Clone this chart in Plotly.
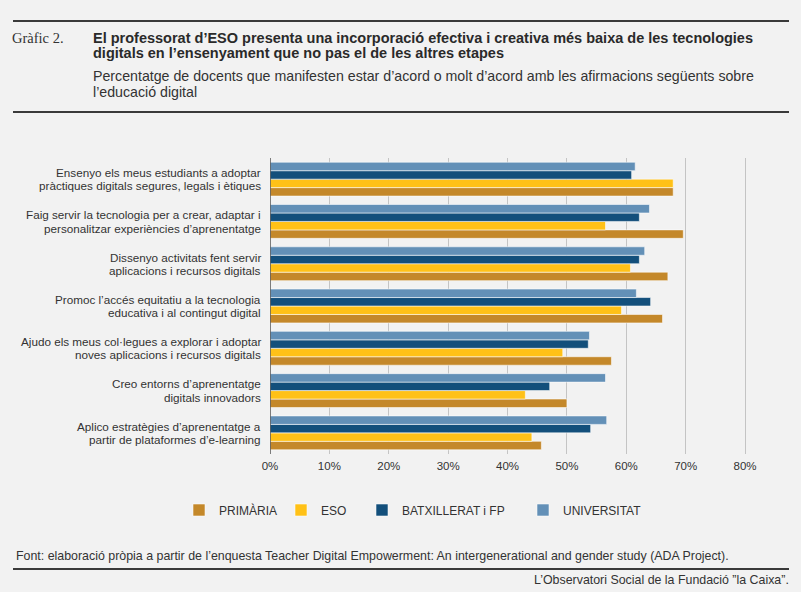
import plotly.graph_objects as go

categories = [
    "Ensenyo els meus estudiants a adoptar<br>pràctiques digitals segures, legals i ètiques",
    "Faig servir la tecnologia per a crear, adaptar i<br>personalitzar experiències d’aprenentatge",
    "Dissenyo activitats fent servir<br>aplicacions i recursos digitals",
    "Promoc l’accés equitatiu a la tecnologia<br>educativa i al contingut digital",
    "Ajudo els meus col·legues a explorar i adoptar<br>noves aplicacions i recursos digitals",
    "Creo entorns d’aprenentatge<br>digitals innovadors",
    "Aplico estratègies d’aprenentatge a<br>partir de plataformes d’e-learning",
]
primaria = [67.9, 69.6, 67.0, 66.1, 57.5, 50.0, 45.7]
eso = [67.9, 56.5, 60.7, 59.2, 49.3, 43.0, 44.1]
batx = [60.9, 62.2, 62.2, 64.1, 53.6, 47.1, 54.0]
univ = [61.5, 63.9, 63.1, 61.7, 53.8, 56.5, 56.7]
series_names = ["PRIMÀRIA", "ESO", "BATXILLERAT i FP", "UNIVERSITAT"]
series_values = [primaria, eso, batx, univ]
colors = ["#c4882a", "#ffc117", "#134f7b", "#6390b7"]
tick_vals = [0, 10, 20, 30, 40, 50, 60, 70, 80]
tick_text = ["0%", "10%", "20%", "30%", "40%", "50%", "60%", "70%", "80%"]

W, H = 801, 592
L, R, T, B = 270, 50, 158, 138
PW, PH = W - L - R, H - T - B

def px(x):
    return (x - L) / PW

def py(y):
    return (H - B - y) / PH

font_main = "Liberation Sans, Arial, sans-serif"
legend_x = [179, 281, 362, 523]
legend_keys = ["legend", "legend2", "legend3", "legend4"]

fig = go.Figure()
for name, vals, col, lk in zip(series_names, series_values, colors, legend_keys):
    fig.add_trace(go.Bar(
        y=categories, x=vals, name=name, orientation="h",
        marker=dict(color=col, line=dict(color="rgba(255,255,255,0.55)", width=1)),
        hoverinfo="x+name", legend=lk,
    ))

legend_common = dict(orientation="h", xanchor="left", y=py(510), yanchor="middle",
                     font=dict(size=12, color="#333333", family=font_main),
                     itemwidth=30, bgcolor="rgba(0,0,0,0)")
legends = {lk: dict(legend_common, x=px(lx)) for lk, lx in zip(legend_keys, legend_x)}

fig.update_layout(
    width=W, height=H,
    margin=dict(l=L, r=R, t=T, b=B),
    paper_bgcolor="#f2f2f2", plot_bgcolor="#f2f2f2",
    barmode="group", bargap=0.2, bargroupgap=0,
    font=dict(family=font_main, size=12, color="#333333"),
    showlegend=True,
    xaxis=dict(range=[0, 81], tickvals=tick_vals, ticktext=tick_text,
               showgrid=True, gridcolor="#c4c4c4", gridwidth=1,
               zeroline=False, showline=False, ticks="",
               tickfont=dict(size=11.5, color="#333333"), ticklabelstandoff=3,
               fixedrange=True),
    yaxis=dict(categoryorder="array", categoryarray=categories[::-1],
               showgrid=False, zeroline=False, showline=False, ticks="",
               showticklabels=False, fixedrange=True),
    **legends,
)

# category labels, two tight lines each
for cat in categories:
    l1, l2 = cat.split("<br>")
    for txt, shift in ((l1, 6.7), (l2, -6.7)):
        fig.add_annotation(xref="paper", yref="y", x=px(263), y=cat, yshift=shift,
                           text=txt, showarrow=False, xanchor="right", yanchor="middle",
                           font=dict(size=11.7, family=font_main, color="#333333"))

# zero axis line
fig.add_shape(type="line", xref="x", yref="paper", x0=0, x1=0, y0=0, y1=1,
              line=dict(color="#555555", width=1.5))

# frame lines
for yline in (21, 112, 569):
    fig.add_shape(type="line", xref="paper", yref="paper",
                  x0=px(13), x1=px(789), y0=py(yline), y1=py(yline),
                  line=dict(color="#3a3a3a", width=2))

def note(x, y, text, size, family=font_main, bold=False, xanchor="left", color="#333333"):
    if bold:
        text = "<b>" + text + "</b>"
    fig.add_annotation(xref="paper", yref="paper", x=px(x), y=py(y), text=text,
                       showarrow=False, xanchor=xanchor, yanchor="middle",
                       font=dict(size=size, family=family, color=color))

note(10, 38, "Gràfic 2.", 14.5, family="Liberation Serif, serif")
note(91, 38, "El professorat d’ESO presenta una incorporació efectiva i creativa més baixa de les tecnologies",
     14.5, bold=True, color="#2a2a2a")
note(91, 53, "digitals en l’ensenyament que no pas el de les altres etapes",
     14.5, bold=True, color="#2a2a2a")
note(91, 76, "Percentatge de docents que manifesten estar d’acord o molt d’acord amb les afirmacions següents sobre", 14.2)
note(91, 92, "l’educació digital", 14.2)
note(14, 556, "Font: elaboració pròpia a partir de l’enquesta Teacher Digital Empowerment: An intergenerational and gender study (ADA Project).", 12.4)
note(791, 580, "L’Observatori Social de la Fundació ”la Caixa”.", 12.4, xanchor="right")

fig.write_html("out.html", config={"displayModeBar": False},
               post_script="document.body.style.margin='0';")
